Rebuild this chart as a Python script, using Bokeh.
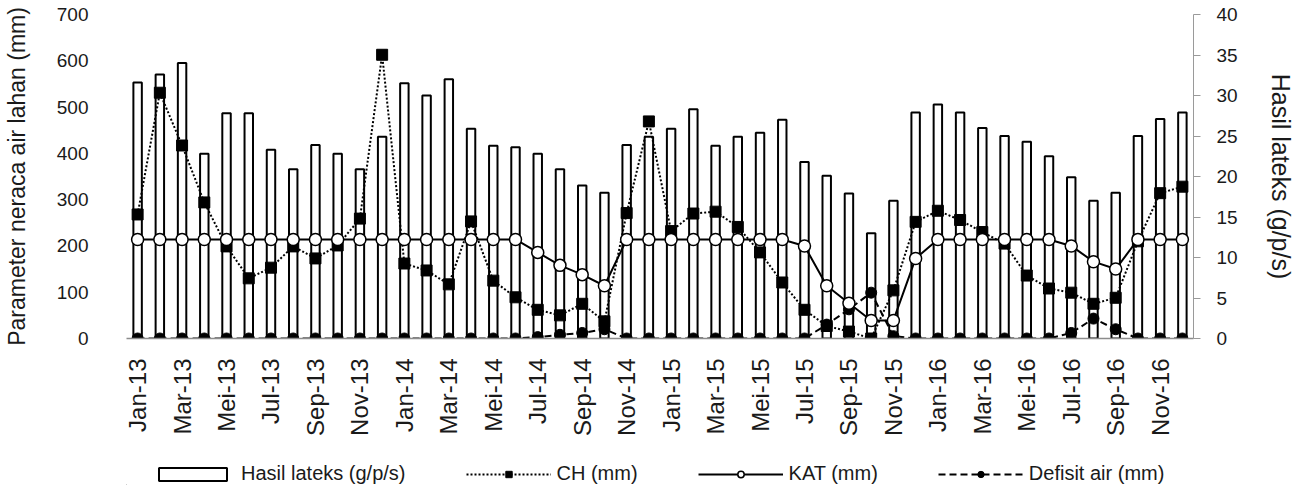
import math
from bokeh.plotting import figure
from bokeh.layouts import column
from bokeh.models import Range1d, LinearAxis, Legend, LegendItem, FixedTicker
from bokeh.embed import file_html
from bokeh.resources import INLINE

months = ["Jan-13", "Feb-13", "Mar-13", "Apr-13", "Mei-13", "Jun-13", "Jul-13", "Agu-13", "Sep-13", "Okt-13", "Nov-13", "Des-13",
          "Jan-14", "Feb-14", "Mar-14", "Apr-14", "Mei-14", "Jun-14", "Jul-14", "Agu-14", "Sep-14", "Okt-14", "Nov-14", "Des-14",
          "Jan-15", "Feb-15", "Mar-15", "Apr-15", "Mei-15", "Jun-15", "Jul-15", "Agu-15", "Sep-15", "Okt-15", "Nov-15", "Des-15",
          "Jan-16", "Feb-16", "Mar-16", "Apr-16", "Mei-16", "Jun-16", "Jul-16", "Agu-16", "Sep-16", "Okt-16", "Nov-16", "Des-16"]

hasil_lateks = [31.6, 32.6, 34.0, 22.8, 27.8, 27.8, 23.3, 20.9, 23.9, 22.8, 20.9, 24.9,
                31.5, 30.0, 32.0, 25.9, 23.8, 23.6, 22.8, 20.9, 18.9, 18.0, 23.9, 24.9,
                25.9, 28.3, 23.8, 24.9, 25.4, 27.0, 21.8, 20.1, 17.9, 13.0, 17.0, 27.9,
                28.9, 27.9, 26.0, 25.0, 24.3, 22.5, 19.9, 17.0, 18.0, 25.0, 27.1, 27.9]

ch = [268, 531, 417, 294, 199, 130, 153, 199, 173, 201, 259, 613,
      162, 147, 117, 253, 125, 89, 62, 50, 75, 37, 271, 469,
      232, 270, 274, 241, 186, 121, 62, 27, 15, 0, 104, 252,
      276, 256, 230, 205, 136, 108, 99, 75, 88, 210, 314, 328]

kat = [214, 214, 214, 214, 214, 214, 214, 214, 214, 214, 214, 214,
       214, 214, 214, 214, 214, 214, 186, 158, 138, 114, 214, 214,
       214, 214, 214, 214, 214, 214, 200, 114, 76, 39, 39, 173,
       214, 214, 214, 214, 214, 214, 200, 166, 150, 214, 214, 214]

defisit = [0, 0, 0, 0, 0, 0, 0, 0, 0, 0, 0, 0,
           0, 0, 0, 0, 0, 0, 3, 8, 12, 20, 0, 0,
           0, 0, 0, 0, 0, 0, 0, 30, 63, 99, 5, 0,
           0, 0, 0, 0, 0, 0, 12, 43, 20, 0, 0, 0]

left_ticks = [0, 100, 200, 300, 400, 500, 600, 700]
right_ticks = [0, 5, 10, 15, 20, 25, 30, 35, 40]

# off-screen proxies, only used to draw the legend swatches in the legend strip
legend_proxy_x = [-1]
legend_proxy_y = [-1]

FONT = "Liberation Sans"
TXT = "#1a1a1a"

idx = list(range(len(months)))

BAR = dict(fill_color="white", line_color="black", line_width=2)
CH_L = dict(line_color="black", line_width=2, line_dash="2 2")
CH_M = dict(marker="square", size=11, fill_color="black", line_color="black")
KAT_L = dict(line_color="black", line_width=2)
KAT_M = dict(marker="circle", size=12, fill_color="white", line_color="black", line_width=1.5)
DEF_L = dict(line_color="black", line_width=2, line_dash="7 4")
DEF_M = dict(marker="circle", size=11, fill_color="black", line_color="black")

p = figure(width=1297, height=461, x_range=Range1d(-0.5, len(months) - 0.5),
           y_range=Range1d(0, 700), output_backend="svg", toolbar_location=None,
           min_border_left=115, min_border_right=100, min_border_top=14, min_border_bottom=123)
p.extra_y_ranges = {"right": Range1d(0, 40)}
p.outline_line_color = None
p.xgrid.grid_line_color = None
p.ygrid.grid_line_color = None

p.vbar(x=idx, top=hasil_lateks, width=0.38, y_range_name="right", **BAR)
p.line(idx, defisit, **DEF_L)
p.scatter(idx, defisit, **DEF_M)
p.line(idx, ch, **CH_L)
p.scatter(idx, ch, **CH_M)
p.line(idx, kat, **KAT_L)
p.scatter(idx, kat, **KAT_M)

# x axis
xa = p.xaxis[0]
xa.ticker = FixedTicker(ticks=idx[::2])
xa.major_label_overrides = {i: months[i] for i in idx}
xa.major_label_orientation = math.pi / 2
xa.major_tick_line_color = None
xa.minor_tick_line_color = None
xa.axis_line_color = "#8c8c8c"
xa.axis_line_width = 1.5
xa.major_label_text_font = FONT
xa.major_label_text_font_size = "24px"
xa.major_label_text_color = TXT
xa.major_label_standoff = 14

# left axis
ya = p.yaxis[0]
ya.ticker = FixedTicker(ticks=left_ticks)
ya.axis_line_color = None
ya.major_tick_line_color = None
ya.minor_tick_line_color = None
ya.major_label_text_font = FONT
ya.major_label_text_font_size = "19px"
ya.major_label_text_color = TXT
ya.major_label_standoff = 32
ya.axis_label = "Parameter neraca air lahan (mm)"
ya.axis_label_text_font = FONT
ya.axis_label_text_font_size = "23px"
ya.axis_label_text_font_style = "normal"
ya.axis_label_text_color = TXT
ya.axis_label_standoff = 24

# right axis
ra = LinearAxis(y_range_name="right", ticker=FixedTicker(ticks=right_ticks))
ra.axis_line_color = "#9a9a9a"
ra.major_tick_line_color = "#9a9a9a"
ra.major_tick_out = 7
ra.major_tick_in = 0
ra.minor_tick_line_color = None
ra.major_label_text_font = FONT
ra.major_label_text_font_size = "19px"
ra.major_label_text_color = TXT
ra.major_label_standoff = 16
ra.axis_label = "Hasil lateks (g/p/s)"
ra.axis_label_text_font = FONT
ra.axis_label_text_font_size = "25px"
ra.axis_label_text_font_style = "normal"
ra.axis_label_text_color = TXT
ra.axis_label_standoff = 26
p.add_layout(ra, "right")

# legend strip
lg = figure(width=1297, height=24, x_range=Range1d(0, 1), y_range=Range1d(0, 1),
            output_backend="svg", toolbar_location=None, min_border=0,
            x_axis_location=None, y_axis_location=None)
lg.outline_line_color = None
lg.xgrid.grid_line_color = None
lg.ygrid.grid_line_color = None
r_bar = lg.vbar(x=legend_proxy_x, top=legend_proxy_y, width=0.1, **BAR)
r_chl = lg.line(legend_proxy_x, legend_proxy_y, **CH_L)
r_chm = lg.scatter(legend_proxy_x, legend_proxy_y, **CH_M)
r_katl = lg.line(legend_proxy_x, legend_proxy_y, **KAT_L)
r_katm = lg.scatter(legend_proxy_x, legend_proxy_y, **KAT_M)
r_defl = lg.line(legend_proxy_x, legend_proxy_y, **DEF_L)
r_defm = lg.scatter(legend_proxy_x, legend_proxy_y, **DEF_M)

legend = Legend(items=[
    LegendItem(label="Hasil lateks (g/p/s)", renderers=[r_bar]),
    LegendItem(label="CH (mm)", renderers=[r_chl, r_chm]),
    LegendItem(label="KAT (mm)", renderers=[r_katl, r_katm]),
    LegendItem(label="Defisit air (mm)", renderers=[r_defl, r_defm]),
], orientation="horizontal", location=(24, 0))
legend.border_line_color = None
legend.background_fill_alpha = 0
legend.glyph_width = 85
legend.glyph_height = 16
legend.label_standoff = 6
legend.spacing = 60
legend.padding = 4
legend.margin = 0
legend.label_text_font = FONT
legend.label_text_font_size = "20px"
legend.label_text_color = TXT
lg.add_layout(legend, "center")

layout = column(p, lg, spacing=0)
open("out.html", "w").write(file_html(layout, INLINE))
